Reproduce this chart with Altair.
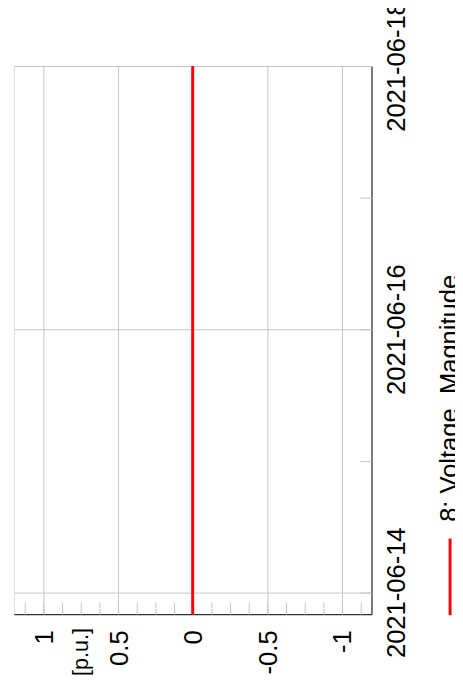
import altair as alt
import pandas as pd

# ---- data ----
times = ["2021-06-13T20:00:00", "2021-06-14T00:00:00", "2021-06-14T12:00:00",
         "2021-06-15T00:00:00", "2021-06-15T12:00:00", "2021-06-16T00:00:00",
         "2021-06-16T12:00:00", "2021-06-17T00:00:00", "2021-06-17T12:00:00",
         "2021-06-18T00:00:00"]
voltage = [0, 0, 0, 0, 0, 0, 0, 0, 0, 0]
series_name = "8: Voltage_Magnitude"

value_ticks = [1, 0.5, 0, -0.5, -1]
value_minor_ticks = [1.125, 1, 0.875, 0.75, 0.625, 0.5, 0.375, 0.25, 0.125, 0,
                     -0.125, -0.25, -0.375, -0.5, -0.625, -0.75, -0.875, -1, -1.125]
date_ticks = ["2021-06-14", "2021-06-16", "2021-06-18"]
date_minor_ticks = ["2021-06-14", "2021-06-15", "2021-06-16", "2021-06-17", "2021-06-18"]
value_domain = [-1.2, 1.2]
unit_title = "[p.u.]"

# ---- layout / style ----
W, H = 364, 558
FONT = "Liberation Sans"
GRID = "#c4c4c4"


def to_dt(s):
    y, m, d = (int(p) for p in s.split("-"))
    return alt.DateTime(year=y, month=m, date=d, hours=0)


df = pd.DataFrame({"time": times, "value": voltage, "series": [series_name] * len(times)})

xscale = alt.Scale(domain=value_domain, reverse=True, nice=False, zero=False)
yscale = alt.Scale(nice=False)

main = alt.Chart(df).mark_line(color="#ff0000", strokeWidth=3).encode(
    x=alt.X("value:Q", scale=xscale,
            axis=alt.Axis(orient="bottom", values=value_ticks, grid=True, gridColor=GRID,
                          ticks=False, domain=True, domainColor="black", domainWidth=1,
                          labelAngle=270, labelAlign="right", labelBaseline="middle",
                          labelPadding=16, labelOffset=1, labelFontSize=26,
                          labelColor="black", labelFont=FONT, labelFlush=False,
                          labelOverlap=False, labelExpr="'' + datum.value",
                          title=unit_title, titleAngle=270, titleAlign="center",
                          titleBaseline="middle", titleX=68, titleY=38,
                          titleFontSize=22, titleFontWeight="normal",
                          titleColor="black", titleFont=FONT)),
    y=alt.Y("time:T", scale=yscale,
            axis=alt.Axis(orient="right", values=[to_dt(d) for d in date_ticks],
                          format="%Y-%m-%d", grid=True, gridColor=GRID,
                          ticks=False, domain=True, domainColor="black", domainWidth=1,
                          labelAngle=270, labelAlign="center", labelBaseline="top",
                          labelPadding=13, labelFontSize=26, labelColor="black",
                          labelFont=FONT, labelFlush=False, labelOverlap=False,
                          title=None)),
    order=alt.Order("time:T"),
)

# inward-pointing minor/major ticks drawn by extra axes moved onto the plot edges
tick_layer = alt.Chart(df).mark_line(opacity=0).encode(
    x=alt.X("value:Q", scale=xscale,
            axis=alt.Axis(orient="top", offset=-H, values=value_minor_ticks, tickSize=12,
                          tickColor=GRID, labels=False, domain=False, grid=False,
                          title=None)),
    y=alt.Y("time:T", scale=yscale,
            axis=alt.Axis(orient="left", offset=-W,
                          values=[to_dt(d) for d in date_minor_ticks], tickSize=12,
                          tickColor=GRID, labels=False, domain=False, grid=False,
                          title=None)),
)

leg_df = pd.DataFrame({"label": [series_name]})
leg_symbol = alt.Chart(leg_df).mark_rule(color="#ff0000", strokeWidth=3).encode(
    x=alt.value(W + 80), y=alt.value(H - 77), y2=alt.value(H + 1)
)
leg_text = alt.Chart(leg_df).mark_text(
    angle=270, align="left", baseline="middle", fontSize=26, font=FONT, color="black"
).encode(x=alt.value(W + 80), y=alt.value(H - 94), text="label:N")

chart = alt.layer(main, tick_layer, leg_symbol, leg_text).resolve_axis(
    x="independent", y="independent"
).properties(
    width=W, height=H,
    autosize=alt.AutoSizeParams(type="none"),
    padding={"left": 6, "top": 53, "right": 85, "bottom": 65},
).configure_view(strokeWidth=0).configure(font=FONT)

chart.save("out.html", embed_options={"renderer": "svg", "actions": False})
